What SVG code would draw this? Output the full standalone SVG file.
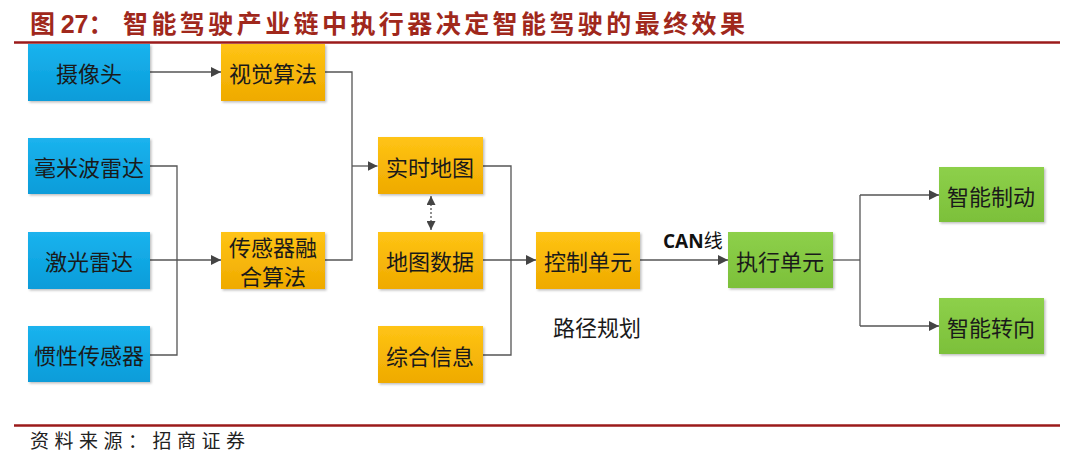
<svg xmlns="http://www.w3.org/2000/svg" width="1080" height="460" viewBox="0 0 1080 460">
<defs>
<linearGradient id="gBlue" x1="0" y1="0" x2="0" y2="1"><stop offset="0" stop-color="#1BB3EE"/><stop offset="1" stop-color="#079CD9"/></linearGradient>
<linearGradient id="gOrange" x1="0" y1="0" x2="0" y2="1"><stop offset="0" stop-color="#FFC415"/><stop offset="1" stop-color="#EFAA00"/></linearGradient>
<linearGradient id="gGreen" x1="0" y1="0" x2="0" y2="1"><stop offset="0" stop-color="#8DD04A"/><stop offset="1" stop-color="#7CC03A"/></linearGradient>
<filter id="sh" x="-10%" y="-10%" width="130%" height="130%"><feDropShadow dx="1.5" dy="1.5" stdDeviation="1.2" flood-color="#000" flood-opacity="0.25"/></filter>
<marker id="arr" viewBox="0 0 10 10" refX="10" refY="5" markerWidth="10" markerHeight="10" markerUnits="userSpaceOnUse" orient="auto"><path d="M0,0 L10,5 L0,10 Z" fill="#444"/></marker>
<marker id="arrS" viewBox="0 0 10 10" refX="10" refY="5" markerWidth="9" markerHeight="9" markerUnits="userSpaceOnUse" orient="auto-start-reverse"><path d="M0,0 L10,5 L0,10 Z" fill="#444"/></marker>
</defs>
<style>
.blue{fill:url(#gBlue);filter:url(#sh)}
.orange{fill:url(#gOrange);filter:url(#sh)}
.green{fill:url(#gGreen);filter:url(#sh)}
.lbl{font-family:"Noto Sans CJK SC","Noto Sans",sans-serif;font-size:22px;fill:#1a1a1a;text-anchor:middle;dominant-baseline:central}
.con{fill:none;stroke:#555;stroke-width:1.3}
.title{font-family:"Noto Sans CJK SC","Noto Sans",sans-serif;font-size:25px;font-weight:bold;fill:#A0281C}
.src{font-family:"Noto Sans CJK SC","Noto Sans",sans-serif;font-size:19px;fill:#222}
.rule{stroke:#9B1A1A;stroke-width:2.5}
</style>
<rect width="1080" height="460" fill="#fff"/>
<text class="title" x="30" y="33">图 <tspan font-family="Liberation Sans, Arial, sans-serif">27</tspan>：</text>
<text class="title" x="123" y="33" textLength="622" lengthAdjust="spacing">智能驾驶产业链中执行器决定智能驾驶的最终效果</text>
<line class="rule" x1="14" y1="42.5" x2="1060" y2="42.5"/>
<line class="rule" x1="14" y1="425.5" x2="1060" y2="425.5" stroke-width="2"/>
<text class="src" x="30" y="448" textLength="215" lengthAdjust="spacing">资料来源：招商证券</text>

<g id="connectors">
<path class="con" d="M150,72 H221" marker-end="url(#arr)"/>
<path class="con" d="M325,72 H352 V260 H325"/>
<path class="con" d="M352,166 H377.5" marker-end="url(#arr)"/>
<path class="con" d="M150,166 H177 V355 H150"/>
<path class="con" d="M150,260 H221" marker-end="url(#arr)"/>
<path class="con" d="M483,166 H511 V355 H483"/>
<path class="con" d="M483,260 H536" marker-end="url(#arr)"/>
<path class="con" d="M431,196 V230" stroke-dasharray="2,2" marker-start="url(#arrS)" marker-end="url(#arrS)"/>
<path class="con" d="M640,260 H728" marker-end="url(#arr)"/>
<path class="con" d="M833,260 H860"/>
<path class="con" d="M860,195 V326"/>
<path class="con" d="M860,195 H939" marker-end="url(#arr)"/>
<path class="con" d="M860,326 H939" marker-end="url(#arr)"/>
</g>

<g id="n-camera"><rect class="blue" x="28" y="44" width="122" height="57"/><text class="lbl" x="89" y="72">摄像头</text></g>
<g id="n-mmwave"><rect class="blue" x="28" y="138" width="122" height="56"/><text class="lbl" x="89" y="166">毫米波雷达</text></g>
<g id="n-lidar"><rect class="blue" x="28" y="232" width="122" height="57"/><text class="lbl" x="89" y="260">激光雷达</text></g>
<g id="n-imu"><rect class="blue" x="28" y="326" width="122" height="56"/><text class="lbl" x="89" y="354">惯性传感器</text></g>

<g id="n-vision"><rect class="orange" x="221" y="44" width="104" height="57"/><text class="lbl" x="273" y="72">视觉算法</text></g>
<g id="n-fusion"><rect class="orange" x="221" y="232" width="104" height="57"/><text class="lbl" x="273" y="246">传感器融<tspan x="273" dy="29">合算法</tspan></text></g>

<g id="n-realtime"><rect class="orange" x="378" y="137" width="105" height="57"/><text class="lbl" x="430" y="166">实时地图</text></g>
<g id="n-mapdata"><rect class="orange" x="378" y="232" width="105" height="57"/><text class="lbl" x="430" y="260">地图数据</text></g>
<g id="n-info"><rect class="orange" x="378" y="326" width="105" height="57"/><text class="lbl" x="430" y="355">综合信息</text></g>

<g id="n-control"><rect class="orange" x="536" y="232" width="104" height="57"/><text class="lbl" x="588" y="260">控制单元</text></g>
<text class="lbl" x="597" y="326" fill="#222">路径规划</text>
<text x="663" y="248" font-family="'Open Sans','Noto Sans CJK SC',sans-serif" font-size="19" font-weight="bold" fill="#111">CAN<tspan font-weight="normal" font-family="'Noto Sans CJK SC',sans-serif">线</tspan></text>

<g id="n-exec"><rect class="green" x="728" y="232" width="105" height="56"/><text class="lbl" x="780" y="260">执行单元</text></g>
<g id="n-brake"><rect class="green" x="939" y="167" width="105" height="55"/><text class="lbl" x="991" y="195">智能制动</text></g>
<g id="n-steer"><rect class="green" x="939" y="298" width="105" height="56"/><text class="lbl" x="991" y="326">智能转向</text></g>
</svg>
